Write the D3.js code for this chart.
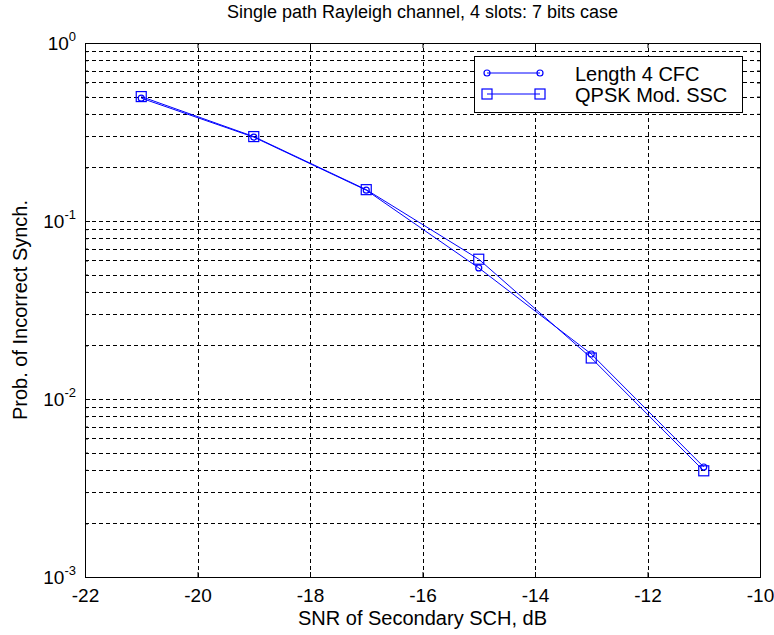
<!DOCTYPE html>
<html>
<head>
<meta charset="utf-8">
<script src="https://cdn.jsdelivr.net/npm/d3@7"></script>
<style>
  body { margin: 0; background: #fff; }
  text { font-family: "Liberation Sans", Arial, sans-serif; fill: #000; }
</style>
</head>
<body>
<div id="chart"></div>
<script>
// data
var snr = [-21, -19, -17, -15, -13, -11];
var cfcVals = [0.49, 0.296, 0.149, 0.0545, 0.0179, 0.00415];
var qpskVals = [0.5, 0.298, 0.15, 0.061, 0.017, 0.00395];
var seriesNames = ['Length 4 CFC', 'QPSK Mod. SSC'];
var xTicks = [-22, -20, -18, -16, -14, -12, -10];
var yDecades = [-3, -2, -1, 0];

var W = 774, H = 635;
var m = {left: 85, right: 14, top: 43, bottom: 58};

var svg = d3.select('#chart').append('svg')
    .attr('width', W).attr('height', H);

var x = d3.scaleLinear().domain([-22, -10]).range([m.left, W - m.right]);
var y = d3.scaleLog().domain([1e-3, 1]).range([H - m.bottom, m.top]);

var x0 = x.range()[0], x1 = x.range()[1], y0 = y.range()[0], y1 = y.range()[1];

// grid values on the log axis (1..9 per decade)
var yGrid = [];
for (var d = -3; d < 0; d++) {
    for (var k = 1; k <= 9; k++) yGrid.push(k * Math.pow(10, d));
}
yGrid = yGrid.filter(function(v){ return v > 1e-3; });

var grid = svg.append('g').attr('stroke', '#000').attr('stroke-width', 1)
    .attr('stroke-dasharray', '4,3');

grid.selectAll('.hg').data(yGrid).enter().append('line')
    .attr('x1', x0).attr('x2', x1)
    .attr('y1', function(v){ return Math.round(y(v)) + 0.5; })
    .attr('y2', function(v){ return Math.round(y(v)) + 0.5; });

grid.selectAll('.vg').data(xTicks.slice(1, -1)).enter().append('line')
    .attr('y1', y0).attr('y2', y1)
    .attr('x1', function(v){ return Math.round(x(v)) + 0.5; })
    .attr('x2', function(v){ return Math.round(x(v)) + 0.5; });

// axes (bottom with labels, others ticks only)
var tickFs = '19px', labFs = '20px';
var xAxis = svg.append('g').attr('transform', 'translate(0,' + y0 + ')')
    .call(d3.axisBottom(x).tickValues(xTicks).tickSizeInner(-5).tickSizeOuter(0).tickPadding(12)
        .tickFormat(function(v){ return String(v); }));
var xTop = svg.append('g').attr('transform', 'translate(0,' + y1 + ')')
    .call(d3.axisTop(x).tickValues(xTicks).tickSizeInner(-5).tickSizeOuter(0).tickFormat(''));

var yMinor = yGrid.filter(function(v){ return Math.abs(Math.log10(v) % 1) > 1e-9; });
var yMajor = yDecades.map(function(e){ return Math.pow(10, e); });

var yAxis = svg.append('g').attr('transform', 'translate(' + x0 + ',0)')
    .call(d3.axisLeft(y).tickValues(yMajor).tickSizeInner(-5).tickSizeOuter(0).tickFormat(''));
var yAxisMinor = svg.append('g').attr('transform', 'translate(' + x0 + ',0)')
    .call(d3.axisLeft(y).tickValues(yMinor).tickSizeInner(-3).tickSizeOuter(0).tickFormat(''));
var yRight = svg.append('g').attr('transform', 'translate(' + x1 + ',0)')
    .call(d3.axisRight(y).tickValues(yMajor).tickSizeInner(-5).tickSizeOuter(0).tickFormat(''));
var yRightMinor = svg.append('g').attr('transform', 'translate(' + x1 + ',0)')
    .call(d3.axisRight(y).tickValues(yMinor).tickSizeInner(-3).tickSizeOuter(0).tickFormat(''));

[xAxis, xTop, yAxis, yAxisMinor, yRight, yRightMinor].forEach(function(g){
    g.select('.domain').remove();
    g.selectAll('line').attr('stroke', '#000');
    g.selectAll('text').style('font-size', tickFs).attr('fill', '#000')
        .style('font-family', '"Liberation Sans", Arial, sans-serif');
});

// y tick labels 10^n
var yl = svg.append('g');
yDecades.forEach(function(e){
    var t = yl.append('text')
        .attr('x', x0 - 9).attr('y', y(Math.pow(10, e)) + 7)
        .attr('text-anchor', 'end').style('font-size', tickFs);
    t.append('tspan').text('10');
    t.append('tspan').attr('dy', -9).style('font-size', '13px').text(e);
});

// box
svg.append('rect').attr('x', x0 + 0.5).attr('y', y1 + 0.5)
    .attr('width', x1 - x0).attr('height', y0 - y1)
    .attr('fill', 'none').attr('stroke', '#000').attr('stroke-width', 1);

// series
var line = d3.line().x(function(d){ return x(d[0]); }).y(function(d){ return y(d[1]); });
var cfc = d3.zip(snr, cfcVals), qpsk = d3.zip(snr, qpskVals);
var blue = '#0000ff';

svg.append('path').datum(cfc).attr('d', line)
    .attr('fill', 'none').attr('stroke', blue).attr('stroke-width', 1);
svg.append('path').datum(qpsk).attr('d', line)
    .attr('fill', 'none').attr('stroke', blue).attr('stroke-width', 1);

svg.selectAll('.c').data(cfc).enter().append('circle')
    .attr('cx', function(d){ return x(d[0]); }).attr('cy', function(d){ return y(d[1]); })
    .attr('r', 3).attr('fill', 'none').attr('stroke', blue).attr('stroke-width', 1.2);
svg.selectAll('.s').data(qpsk).enter().append('rect')
    .attr('x', function(d){ return x(d[0]) - 5; }).attr('y', function(d){ return y(d[1]) - 5; })
    .attr('width', 10).attr('height', 10)
    .attr('fill', 'none').attr('stroke', blue).attr('stroke-width', 1.2);

// legend
var lg = svg.append('g').attr('transform', 'translate(474,56)');
lg.append('rect').attr('x', 0.5).attr('y', 0.5).attr('width', 268).attr('height', 56)
    .attr('fill', '#fff').attr('stroke', '#000').attr('stroke-width', 1);
seriesNames.forEach(function(name, i){
    var yy = 17 + i * 21;
    lg.append('line').attr('x1', 13).attr('x2', 66).attr('y1', yy).attr('y2', yy)
        .attr('stroke', blue).attr('stroke-width', 1);
    [13, 66].forEach(function(px){
        if (i === 0) {
            lg.append('circle').attr('cx', px).attr('cy', yy).attr('r', 3)
                .attr('fill', 'none').attr('stroke', blue).attr('stroke-width', 1.2);
        } else {
            lg.append('rect').attr('x', px - 5).attr('y', yy - 5).attr('width', 10).attr('height', 10)
                .attr('fill', 'none').attr('stroke', blue).attr('stroke-width', 1.2);
        }
    });
    lg.append('text').attr('x', 101).attr('y', yy + 8).style('font-size', labFs).text(name);
});

// labels
svg.append('text').attr('x', (x0 + x1) / 2).attr('y', 18).attr('text-anchor', 'middle')
    .style('font-size', '18px').text('Single path Rayleigh channel, 4 slots: 7 bits case');
svg.append('text').attr('x', (x0 + x1) / 2).attr('y', 625).attr('text-anchor', 'middle')
    .style('font-size', labFs).text('SNR of Secondary SCH, dB');
svg.append('text').attr('transform', 'translate(27,' + ((y0 + y1) / 2) + ') rotate(-90)')
    .attr('text-anchor', 'middle').style('font-size', labFs).text('Prob. of Incorrect Synch.');
</script>
</body>
</html>
